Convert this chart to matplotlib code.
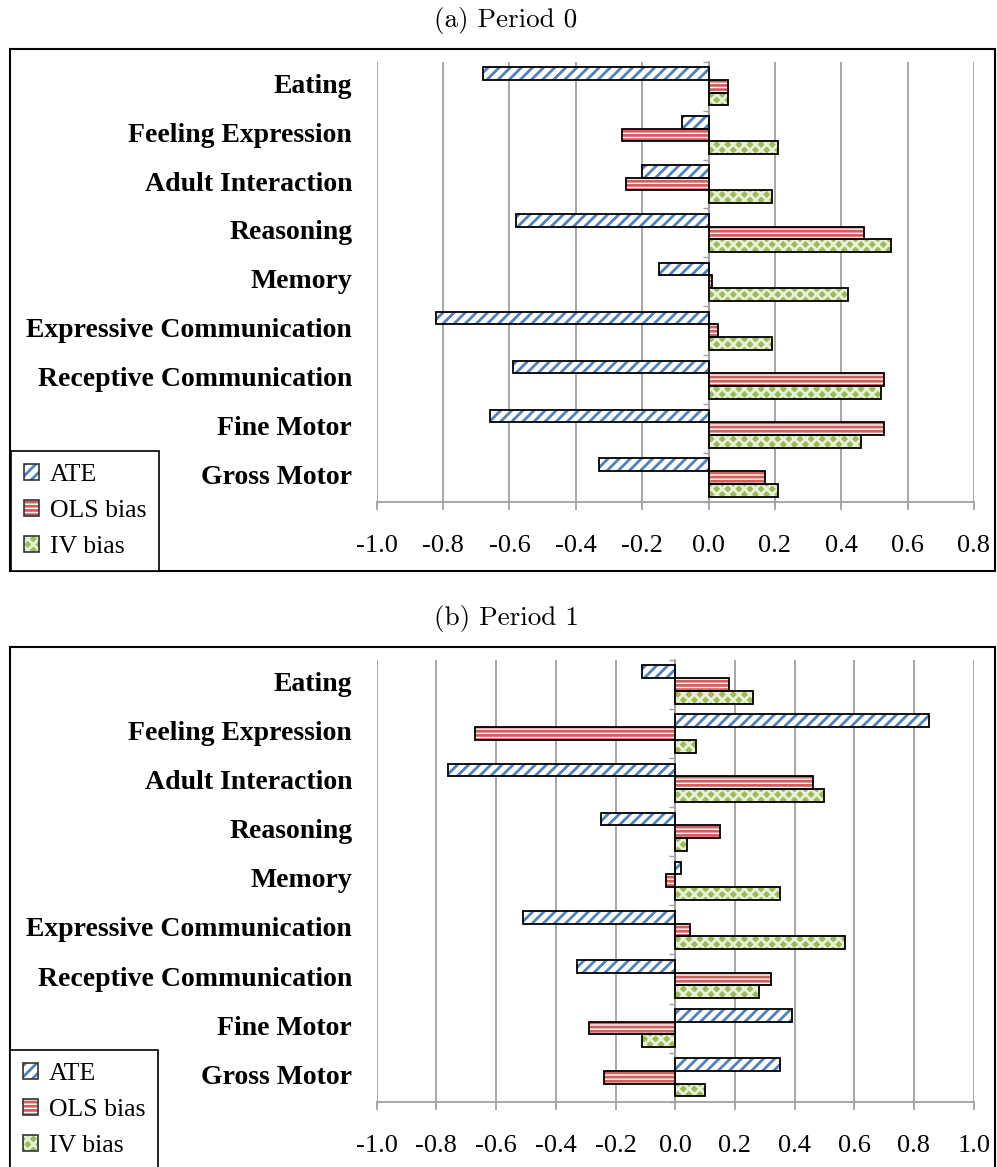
import numpy as np
import matplotlib
matplotlib.use('Agg')
import matplotlib.pyplot as plt
from matplotlib.patches import Patch, Rectangle
from matplotlib.ticker import FuncFormatter

plt.rcParams['hatch.linewidth'] = 2.0
plt.rcParams['axes.unicode_minus'] = False

# categories listed top to bottom as in the figure
categories = ['Eating', 'Feeling Expression', 'Adult Interaction', 'Reasoning', 'Memory',
              'Expressive Communication', 'Receptive Communication', 'Fine Motor', 'Gross Motor']

p0_ate = [-0.68, -0.08, -0.20, -0.58, -0.15, -0.82, -0.59, -0.66, -0.33]
p0_ols = [0.06, -0.26, -0.25, 0.47, 0.01, 0.03, 0.53, 0.53, 0.17]
p0_iv = [0.06, 0.21, 0.19, 0.55, 0.42, 0.19, 0.52, 0.46, 0.21]

p1_ate = [-0.11, 0.85, -0.76, -0.25, 0.02, -0.51, -0.33, 0.39, 0.35]
p1_ols = [0.18, -0.67, 0.46, 0.15, -0.03, 0.05, 0.32, -0.29, -0.24]
p1_iv = [0.26, 0.07, 0.50, 0.04, 0.35, 0.57, 0.28, -0.11, 0.10]

series_names = ['ATE', 'OLS bias', 'IV bias']
# (face, hatch colour, hatch)
styles = [('white', '#4F81BD', '///'),
          ('white', '#D0605E', '----'),
          ('#9BBB59', '#E8F0D8', 'xxx')]

GRAY = '#A0A0A0'
W, H = 997, 1167


def draw_panel(fig, rect, xmax, series):
    ax = fig.add_axes(rect)
    n = len(categories)
    y = np.arange(n)[::-1]
    h = 0.26
    offsets = [h, 0, -h]
    for vals, (face, hcol, hatch), off in zip(series, styles, offsets):
        ax.barh(y + off, vals, height=h, color=face, edgecolor=hcol, hatch=hatch,
                linewidth=0, zorder=2)
        ax.barh(y + off, vals, height=h, fill=False, edgecolor='black',
                linewidth=1.3, zorder=3)
    ax.set_xlim(-1.0, xmax)
    ax.set_ylim(-0.5, n - 0.5)
    ax.set_xticks(np.arange(-1.0, xmax + 0.01, 0.2))
    ax.xaxis.set_major_formatter(FuncFormatter(lambda v, p: f'{v:.1f}'.replace('-0.0', '0.0')))
    ax.set_yticks(np.arange(-0.5, n, 1.0))
    ax.set_yticklabels([])
    ax.grid(axis='x', color=GRAY, linewidth=1.3)
    ax.set_axisbelow(True)
    for s in ['top', 'right']:
        ax.spines[s].set_visible(False)
    ax.spines['left'].set_position(('data', 0))
    ax.spines['left'].set_color(GRAY)
    ax.spines['left'].set_linewidth(1.3)
    ax.spines['bottom'].set_color(GRAY)
    ax.spines['bottom'].set_linewidth(1.3)
    ax.tick_params(axis='x', length=6, width=1.3, color=GRAY, pad=18,
                   labelsize=19)
    ax.tick_params(axis='y', length=4, width=1.0, color=GRAY)
    for lab in ax.get_xticklabels():
        lab.set_family('Liberation Serif')
    for yy, cat in zip(y, categories):
        ax.text(-24.5 / (rect[2] * W), yy, cat, transform=ax.get_yaxis_transform(),
                ha='right', va='center', fontsize=20, fontweight='bold',
                family='Liberation Serif')
    return ax


def add_legend(fig, x0, y_bottom):
    handles = []
    for face, hcol, hatch in styles:
        handles.append((Patch(facecolor=face, edgecolor=hcol, hatch=hatch, linewidth=0),
                        Patch(fill=False, edgecolor='#333333', linewidth=1.2)))
    leg = fig.legend(handles, series_names, loc='lower left',
                     bbox_to_anchor=(x0 / W, 1 - y_bottom / H),
                     bbox_transform=fig.transFigure, borderaxespad=0,
                     prop={'family': 'Liberation Serif', 'size': 18.5},
                     handlelength=0.6, handleheight=0.55, handletextpad=0.4,
                     labelspacing=0.55, borderpad=0.5, fancybox=False,
                     framealpha=1, edgecolor='black')
    leg.get_frame().set_linewidth(1.2)
    return leg


fig = plt.figure(figsize=(W / 100, H / 100), dpi=100)

# panel borders
fig.patches.append(Rectangle((10 / W, 1 - 571 / H), 985 / W, (571 - 49) / H,
                             transform=fig.transFigure, fill=False,
                             edgecolor='black', linewidth=1.5))
fig.patches.append(Rectangle((10 / W, 1 - 1170 / H), 985 / W, (1170 - 647) / H,
                             transform=fig.transFigure, fill=False,
                             edgecolor='black', linewidth=1.5))

fig.text(506 / W, 1 - 21 / H, '(a) Period 0', ha='center', va='center',
         family='cmr10', fontsize=19.5)
fig.text(506 / W, 1 - 619 / H, '(b) Period 1', ha='center', va='center',
         family='cmr10', fontsize=19.5)

left = 376.7 / W
draw_panel(fig, [left, 1 - 502 / H, (974 - 376.7) / W, (502 - 61.7) / H], 0.8,
           [p0_ate, p0_ols, p0_iv])
draw_panel(fig, [left, 1 - 1101.7 / H, (973.7 - 376.7) / W, (1101.7 - 660) / H], 1.0,
           [p1_ate, p1_ols, p1_iv])

add_legend(fig, 11, 571)
add_legend(fig, 10, 1170)

fig.savefig('out.png', dpi=100)
